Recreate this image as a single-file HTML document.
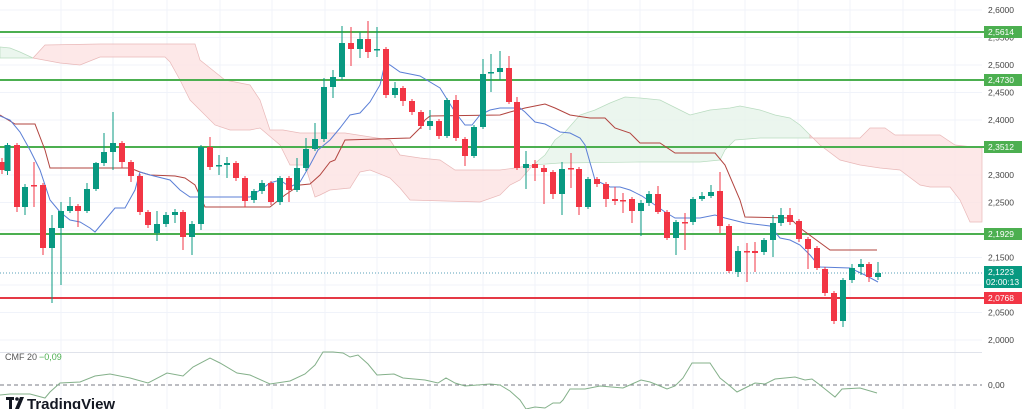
<!DOCTYPE html>
<html><head><meta charset="utf-8"><style>
html,body{margin:0;padding:0;background:#fff;width:1024px;height:409px;overflow:hidden}
svg{display:block;font-family:"Liberation Sans",sans-serif}
</style></head><body>
<svg id="c" width="1024" height="409" xmlns="http://www.w3.org/2000/svg">
<g stroke="#f0f3fa" stroke-width="1" id="grid"></g>
<!-- clouds -->
<polygon fill="#e6f4ea" fill-opacity="0.8" stroke="#b9dcc0" stroke-width="0.7" points="0,47 10,48 20,52 33,58 20,58 0,58"/>
<polygon fill="#fde2e2" fill-opacity="0.8" stroke="#e9b8b8" stroke-width="0.7" points="33,58 45,45 100,44 195,44 200,60 210,68 225,80 250,85 260,100 270,130 283,130 300,133 345,133 390,140 400,155 420,158 440,160 455,170 500,170 515,168 533,165 520,180 510,185 500,195 480,202 410,200 400,188 390,178 370,170 360,172 350,188 330,190 320,195 315,197 305,165 290,165 280,145 260,128 250,130 230,130 215,125 200,110 190,100 180,80 170,62 165,57 100,57 80,65 60,63"/>
<polygon fill="#e6f4ea" fill-opacity="0.8" stroke="#b9dcc0" stroke-width="0.7" points="533,165 545,155 555,140 565,132 580,115 595,110 610,103 625,97 640,98 660,100 680,110 690,115 710,110 730,108 740,106 760,110 775,115 790,118 800,125 810,135 810,138 760,138 735,140 725,150 720,160 700,162 640,162 560,163"/>
<polygon fill="#fde2e2" fill-opacity="0.8" stroke="#e9b8b8" stroke-width="0.7" points="810,138 860,138 870,128 885,128 895,135 940,135 955,145 982,148 982,222 970,222 960,200 950,187 930,187 920,185 900,170 880,168 860,165 840,160 820,145 810,135"/>
<!-- levels -->
<g stroke-width="2">
<line x1="0" y1="32" x2="985" y2="32" stroke="#4caf50"/>
<line x1="0" y1="80" x2="985" y2="80" stroke="#4caf50"/>
<line x1="0" y1="147" x2="985" y2="147" stroke="#4caf50"/>
<line x1="0" y1="234" x2="985" y2="234" stroke="#4caf50"/>
<line x1="0" y1="298" x2="985" y2="298" stroke="#e53945"/>
</g>
<line x1="0" y1="273" x2="985" y2="273" stroke="#5aa0b8" stroke-width="1" stroke-dasharray="1,2"/>
<!-- kijun / tenkan -->
<polyline fill="none" stroke="#b2443f" stroke-width="1" points="0,115 15,124 30,124 35,124 45,150 50,168 130,168 140,172 150,175 175,176 185,178 195,185 205,207 270,207 275,203 285,195 300,185 310,184 320,175 330,162 335,160 345,140 410,138 420,128 425,120 430,116 500,115 510,112 525,108 540,105 545,104 555,108 570,115 590,118 605,118 615,128 630,133 640,143 660,143 675,153 715,153 725,165 740,200 745,217 790,218 800,228 830,250 877,250"/>
<polyline fill="none" stroke="#5b7fd6" stroke-width="1" points="0,116 10,120 20,132 30,150 40,170 50,200 60,212 70,220 80,222 90,228 95,232 105,220 115,208 125,208 135,190 140,172 150,175 170,180 180,190 190,197 250,197 260,190 270,183 280,180 290,187 300,182 310,165 318,150 330,140 340,128 350,115 360,113 370,102 380,85 385,63 390,65 400,72 420,76 440,88 455,112 465,125 472,125 480,115 490,110 500,108 520,108 525,112 535,122 545,124 560,132 570,133 580,138 585,145 595,180 610,187 620,187 630,190 642,196 655,205 665,212 675,218 700,218 715,215 725,218 745,223 770,226 775,232 780,238 790,240 800,245 810,255 820,267 850,268 865,275 878,282"/>
<g id="candles"></g>
<!-- CMF -->
<line x1="0" y1="352.5" x2="982" y2="352.5" stroke="#e0e3eb"/>
<line x1="0" y1="385" x2="982" y2="385" stroke="#787b86" stroke-width="1" stroke-dasharray="4,3"/>
<polyline fill="none" stroke="#84b08a" stroke-width="1" points="0,395 10,394 30,394 45,398 50,392 60,383 80,382 95,376 110,374 130,378 148,383 167,373 183,376 193,367 210,358 220,363 237,373 250,375 270,384 290,381 305,374 315,365 323,352 333,352 343,353 350,357 358,355 368,364 377,375 394,374 403,378 425,380 438,383 446,378 455,383 465,386 490,384 500,385 510,391 520,400 526,409 535,407 545,408 553,403 560,403 563,400 570,389 585,389 600,386 623,388 632,384 641,380 650,382 660,386 667,389 675,386 683,378 692,363 710,363 720,378 730,386 737,392 745,388 755,383 765,384 775,379 795,377 805,380 812,379 820,385 835,397 842,389 860,388 877,393"/>
<text x="5" y="360" font-size="9" fill="#555">CMF 20</text>
<text x="39" y="360" font-size="9" fill="#4caf50">−0,09</text>
<!-- logo -->
<g fill="#131722"><rect x="6" y="397" width="8" height="3"/><rect x="9" y="397" width="3" height="12"/><circle cx="17" cy="399" r="1.8"/><polygon points="20,397 24,397 19,409 15,409"/></g>
<text x="27" y="409" font-size="15" font-weight="bold" fill="#131722">TradingView</text>
<!-- axis labels -->
<g font-size="8.5" fill="#444" id="ax"></g>
<g font-size="8.5" fill="#fff">
<rect x="984" y="26" width="38" height="12" fill="#4caf50"/><text x="988" y="35">2,5614</text>
<rect x="984" y="74" width="38" height="12" fill="#4caf50"/><text x="988" y="83">2,4730</text>
<rect x="984" y="141" width="38" height="12" fill="#4caf50"/><text x="988" y="150">2,3512</text>
<rect x="984" y="228" width="38" height="12" fill="#4caf50"/><text x="988" y="237">2,1929</text>
<rect x="984" y="266" width="38" height="22" fill="#089981"/><text x="988" y="275">2,1223</text><text x="986" y="285">02:00:13</text>
<rect x="984" y="292" width="38" height="12" fill="#f23645"/><text x="988" y="301">2,0768</text>
</g>
</svg>
<script>
var NS="http://www.w3.org/2000/svg";
function el(t,a,p){var e=document.createElementNS(NS,t);for(var k in a)e.setAttribute(k,a[k]);p.appendChild(e);return e;}
var g=document.getElementById('grid');
[61,113,167,220,272,325,377,430,483,535,588,640,693,745,798,850,903,955].forEach(function(x){el('line',{x1:x,y1:0,x2:x,y2:409},g);});
for(var k=0;k<13;k++){var y=10+k*27.5;el('line',{x1:0,y1:y,x2:982,y2:y},g);}
var ax=document.getElementById('ax');
[["2,6000",10],["2,5500",37.5],["2,5000",65],["2,4500",92.5],["2,4000",120],["2,3000",175],["2,2500",202.5],["2,1500",257.5],["2,0500",312.5],["2,0000",340],["0,00",385]].forEach(function(a){var t=el('text',{x:988,y:a[1]+3},ax);t.textContent=a[0];});
// x, open, close, high, low
var C=[[2,162,170,158,174],[7.5,171,145,143,175],[17,145,207,143,212],[25,207,187,184,215],[34,185,186,162,207],[43,185,248,183,255],[52,248,228,215,303],[61,228,211,202,285],[70,211,206,197,213],[78,206,211,204,227],[87,211,189,183,213],[96,189,163,162,191],[104,163,152,133,166],[113,152,143,112,170],[122,143,162,141,168],[131,162,176,160,182],[140,176,212,174,215],[148,212,225,210,228],[157,233,224,211,241],[166,224,215,212,227],[175,215,212,209,223],[183,212,237,210,250],[192,237,224,221,255],[201,224,147,145,230],[210,147,167,137,170],[219,166,165,155,175],[227,165,163,157,178],[236,163,178,161,181],[245,178,201,176,207],[254,200,191,189,203],[262,191,183,180,194],[271,183,202,181,205],[280,202,178,176,205],[289,178,190,176,202],[297,190,168,158,192],[306,168,149,138,171],[315,149,139,123,151],[324,139,87,78,142],[333,87,77,70,98],[342,77,43,26,80],[351,43,49,27,66],[360,49,39,32,58],[368,39,52,21,58],[377,50,49,27,57],[386,49,95,47,98],[395,95,88,82,98],[403,88,101,86,106],[412,101,112,99,115],[421,112,126,110,129],[430,126,121,110,130],[439,121,136,119,139],[447,136,100,98,138],[456,100,138,95,141],[465,139,156,137,166],[474,156,127,125,158],[483,127,74,59,129],[491,73,72,54,92],[500,72,68,51,80],[509,68,102,56,104],[517,102,168,97,170],[526,168,164,151,189],[535,164,168,160,181],[544,168,172,165,204],[553,172,194,170,199],[562,194,169,162,215],[571,168,169,153,188],[579,169,207,167,215],[588,207,179,177,209],[597,179,184,177,187],[606,184,199,182,207],[615,199,201,187,205],[623,200,201,193,213],[632,199,211,197,223],[641,211,203,200,236],[649,203,194,191,206],[658,194,212,186,214],[667,212,238,210,240],[676,238,222,220,255],[685,222,223,213,250],[693,222,199,197,225],[702,199,196,192,201],[711,196,192,185,198],[720,191,226,172,233],[729,226,271,224,273],[738,272,251,246,277],[747,251,252,243,282],[755,251,253,242,272],[764,252,240,238,255],[773,240,223,215,257],[781,223,215,208,226],[790,215,222,208,225],[799,221,239,219,242],[808,239,249,237,269],[817,248,268,246,270],[825,269,293,267,296],[834,293,321,291,324],[843,321,280,278,327],[852,280,268,264,283],[861,267,264,259,275],[869,264,277,262,282],[878,277,273,262,280]];
var cg=document.getElementById('candles');
C.forEach(function(c){var up=c[2]<c[1];var col=up?"#089981":"#f23645";
el('line',{x1:c[0],y1:c[3],x2:c[0],y2:c[4],stroke:col,'stroke-width':1},cg);
var t=Math.min(c[1],c[2]),h=Math.max(1.5,Math.abs(c[1]-c[2]));
el('rect',{x:c[0]-3,y:t,width:6,height:h,fill:col},cg);});
</script>
</body></html>
